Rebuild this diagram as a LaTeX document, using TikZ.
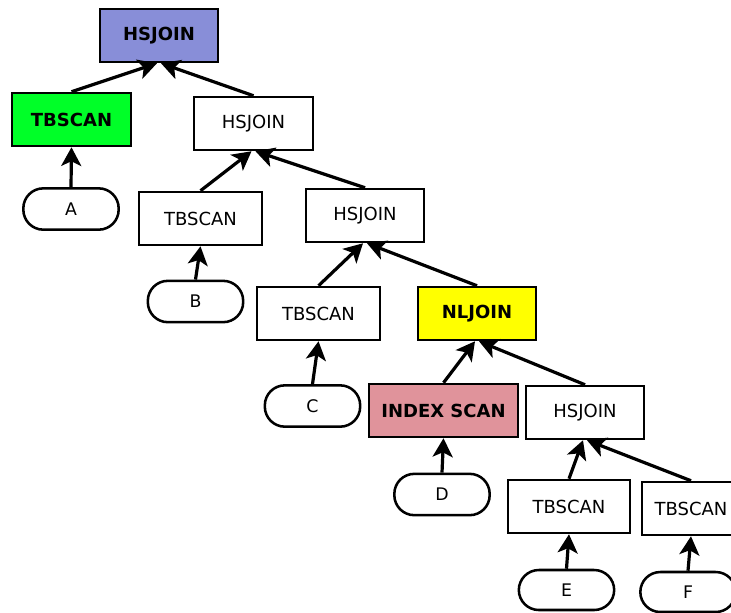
\documentclass[tikz,border=0pt]{standalone}
\usepackage{fontspec}
\setmainfont{DejaVu Sans}
\usetikzlibrary{arrows.meta}
\definecolor{rootblue}{RGB}{136,142,216}
\definecolor{scangreen}{RGB}{0,255,40}
\definecolor{nlyellow}{RGB}{255,255,0}
\definecolor{idxpink}{RGB}{224,147,155}
\tikzset{
  opbox/.style={draw, line width=1.9pt, minimum height=39.75pt, inner sep=0pt,
    font=\fontsize{13.5}{15}\selectfont},
  opbold/.style={opbox, font=\fontsize{13.5}{15}\selectfont\bfseries},
  leaf/.style={draw, line width=1.9pt, rounded corners=15pt, minimum width=71.5pt,
    minimum height=31pt, inner sep=0pt, font=\fontsize{13}{15}\selectfont},
  edge/.style={line width=2.4pt, -{Stealth[length=14pt,width=15pt,inset=3.5pt]}}
}
\begin{document}
\begin{tikzpicture}[x=0.75pt,y=-0.75pt]
\useasboundingbox (0,0) rectangle (731,612);
\clip (0,0) rectangle (731,612);

% operators
\node[opbold, fill=rootblue, minimum width=88.5pt] (root) at (159,35.5) {HSJOIN};
\node[opbold, fill=scangreen, minimum width=89pt] (tbA) at (71.5,119.5) {TBSCAN};
\node[opbox, minimum width=89pt] (hj2) at (253.5,123.5) {HSJOIN};
\node[opbox, minimum width=92pt] (tbB) at (200.5,218.5) {TBSCAN};
\node[opbox, minimum width=88.5pt] (hj3) at (365,215.5) {HSJOIN};
\node[opbox, minimum width=92pt] (tbC) at (318.5,313.5) {TBSCAN};
\node[opbold, fill=nlyellow, minimum width=88.5pt] (nl) at (477,313.5) {NLJOIN};
\node[opbold, fill=idxpink, minimum width=111.5pt] (idx) at (443.5,410.5) {INDEX SCAN};
\node[opbox, minimum width=88.5pt] (hj4) at (585,412.5) {HSJOIN};
\node[opbox, minimum width=91.5pt] (tbE) at (569,506.5) {TBSCAN};
\node[opbox, minimum width=73.5pt] (tbF) at (691,508.5) {TBSCAN};

% tables
\node[leaf] (lA) at (71,209) {A};
\node[leaf] (lB) at (195.5,301.5) {B};
\node[leaf] (lC) at (312.5,406) {C};
\node[leaf] (lD) at (442,494.5) {D};
\node[leaf, minimum height=30pt] (lE) at (566.5,590) {E};
\node[leaf, minimum height=30pt] (lF) at (688,592) {F};

% data flow, child to parent
\draw[edge] (tbA.north) -- ([xshift=-1.5pt]root.south);
\draw[edge] (hj2.north) -- ([xshift=1.5pt]root.south);
\draw[edge] (lA.north) -- (tbA.south);
\draw[edge] (tbB.north) -- ([xshift=-1.5pt]hj2.south);
\draw[edge] (hj3.north) -- ([xshift=1.5pt]hj2.south);
\draw[edge] (lB.north) -- (tbB.south);
\draw[edge] (tbC.north) -- ([xshift=-1.5pt]hj3.south);
\draw[edge] (nl.north) -- ([xshift=1.5pt]hj3.south);
\draw[edge] (lC.north) -- (tbC.south);
\draw[edge] (idx.north) -- ([xshift=-1.5pt]nl.south);
\draw[edge] (hj4.north) -- ([xshift=1.5pt]nl.south);
\draw[edge] (lD.north) -- (idx.south);
\draw[edge] (tbE.north) -- ([xshift=-1.5pt]hj4.south);
\draw[edge] (tbF.north) -- ([xshift=1.5pt]hj4.south);
\draw[edge] (lE.north) -- (tbE.south);
\draw[edge] (lF.north) -- (tbF.south);
\end{tikzpicture}
\end{document}
